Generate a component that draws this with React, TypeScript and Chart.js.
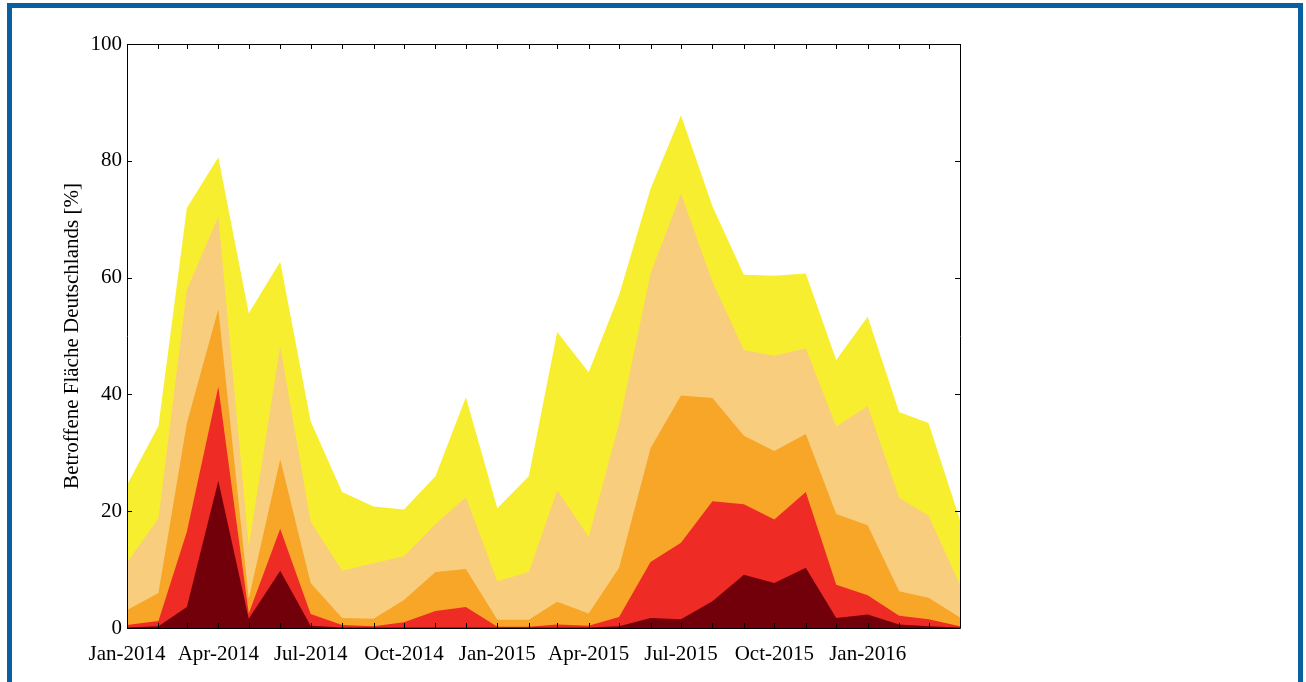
import React, { useEffect, useRef } from "react";
import { Chart, registerables } from "chart.js";

Chart.register(...registerables);

// Monthly samples (first day of month)
const months = [
  "2014-01", "2014-02", "2014-03", "2014-04", "2014-05", "2014-06", "2014-07",
  "2014-08", "2014-09", "2014-10", "2014-11", "2014-12", "2015-01", "2015-02",
  "2015-03", "2015-04", "2015-05", "2015-06", "2015-07", "2015-08", "2015-09",
  "2015-10", "2015-11", "2015-12", "2016-01", "2016-02", "2016-03", "2016-04",
];

// Tick labels on the x axis (quarterly)
const quarterMonths = [
  "2014-01", "2014-04", "2014-07", "2014-10", "2015-01", "2015-04", "2015-07", "2015-10", "2016-01",
];
const quarterLabels = [
  "Jan-2014", "Apr-2014", "Jul-2014", "Oct-2014", "Jan-2015", "Apr-2015", "Jul-2015", "Oct-2015", "Jan-2016",
];

const yTickValues = [0, 20, 40, 60, 80, 100];

// Cumulative affected area per drought class [%]
const level1 = [24.5, 34.6, 71.9, 80.6, 53.9, 62.7, 35.4, 23.3, 20.8, 20.3, 26.0, 39.5, 20.5, 26.0, 50.7, 43.8, 57.0, 75.2, 87.8, 72.2, 60.5, 60.3, 60.7, 45.9, 53.3, 37.0, 35.1, 18.5];
const level2 = [11.2, 18.8, 57.9, 70.4, 14.0, 48.3, 18.2, 9.8, 11.1, 12.3, 17.8, 22.4, 8.0, 9.6, 23.6, 15.6, 35.0, 60.7, 74.4, 59.3, 47.6, 46.6, 47.9, 34.5, 38.0, 22.3, 19.2, 7.4];
const level3 = [3.1, 6.0, 35.1, 54.6, 5.0, 28.9, 7.7, 1.7, 1.6, 4.8, 9.6, 10.1, 1.4, 1.4, 4.5, 2.5, 10.3, 30.8, 39.8, 39.4, 32.9, 30.3, 33.2, 19.5, 17.6, 6.3, 5.2, 1.8];
const level4 = [0.5, 1.2, 16.5, 41.3, 2.5, 17.0, 2.4, 0.5, 0.3, 1.0, 2.9, 3.6, 0.2, 0.2, 0.6, 0.4, 1.9, 11.3, 14.6, 21.7, 21.2, 18.6, 23.3, 7.4, 5.6, 2.1, 1.5, 0.3];
const level5 = [0.1, 0.3, 3.6, 25.2, 1.6, 9.8, 0.4, 0.1, 0.1, 0.1, 0.1, 0.1, 0.1, 0.1, 0.1, 0.1, 0.3, 1.7, 1.5, 4.6, 9.1, 7.7, 10.3, 1.7, 2.3, 0.6, 0.3, 0.1];

const colors = ["#72000B", "#EE2B25", "#F7A627", "#F9CD7E", "#F8EE30"];

const FONT = "'Liberation Serif', 'Times New Roman', serif";

function dayOf(m: string): number {
  const [y, mo] = m.split("-").map(Number);
  return (Date.UTC(y, mo - 1, 1) - Date.UTC(2014, 0, 1)) / 86400000;
}

const labelMap = new Map<number, string>();
quarterMonths.forEach((m, i) => labelMap.set(dayOf(m), quarterLabels[i]));

const framePlugin = {
  id: "frame",
  afterDatasetsDraw(chart: any) {
    const { ctx, chartArea } = chart;
    const { left, right, top, bottom } = chartArea;
    const xs = chart.scales.x;
    const ys = chart.scales.y;
    ctx.save();
    ctx.strokeStyle = "#000";
    ctx.lineWidth = 1;
    ctx.beginPath();
    ctx.rect(Math.round(left) + 0.5, Math.round(top) + 0.5, Math.round(right - left), Math.round(bottom - top));
    ctx.stroke();
    const tl = 5;
    ctx.beginPath();
    for (const v of yTickValues) {
      const py = Math.round(ys.getPixelForValue(v)) + 0.5;
      ctx.moveTo(left, py);
      ctx.lineTo(left + tl, py);
      ctx.moveTo(right, py);
      ctx.lineTo(right - tl, py);
    }
    for (const m of months) {
      const px = Math.round(xs.getPixelForValue(dayOf(m))) + 0.5;
      ctx.moveTo(px, bottom);
      ctx.lineTo(px, bottom - tl);
      ctx.moveTo(px, top);
      ctx.lineTo(px, top + tl);
    }
    ctx.stroke();
    ctx.restore();
  },
};

export default function App() {
  const ref = useRef<HTMLCanvasElement | null>(null);

  useEffect(() => {
    if (!ref.current) return;
    const series = [level5, level4, level3, level2, level1];
    const chart = new Chart(ref.current, {
      type: "line",
      data: {
        datasets: series.map((arr, i) => ({
          data: months.map((m, j) => ({ x: dayOf(m), y: arr[j] })),
          backgroundColor: colors[i],
          borderColor: colors[i],
          borderWidth: 0,
          pointRadius: 0,
          tension: 0,
          fill: "origin",
        })),
      },
      options: {
        animation: false,
        responsive: false,
        maintainAspectRatio: false,
        events: [],
        layout: { padding: { left: 0, top: 44, right: 346, bottom: 0 } },
        plugins: { legend: { display: false }, tooltip: { enabled: false } },
        scales: {
          x: {
            type: "linear",
            min: dayOf(months[0]),
            max: dayOf(months[months.length - 1]),
            grid: { display: false, drawTicks: false },
            border: { display: false },
            ticks: {
              autoSkip: false,
              maxRotation: 0,
              minRotation: 0,
              padding: 14,
              color: "#000",
              font: { family: FONT, size: 21 },
              callback: (v: any) => labelMap.get(Number(v)) ?? "",
            },
            afterBuildTicks: (s: any) => {
              s.ticks = quarterMonths.map((m) => ({ value: dayOf(m) }));
            },
            afterFit: (s: any) => {
              s.height = 54;
            },
          },
          y: {
            min: 0,
            max: 100,
            grid: { display: false, drawTicks: false },
            border: { display: false },
            ticks: {
              stepSize: 20,
              padding: 5,
              color: "#000",
              font: { family: FONT, size: 21 },
            },
            title: {
              display: true,
              text: "Betroffene Fläche Deutschlands [%]",
              color: "#000",
              font: { family: FONT, size: 21 },
              padding: { top: 60, bottom: 0 },
            },
            afterFit: (s: any) => {
              s.width = 127;
            },
          },
        },
      },
      plugins: [framePlugin],
    } as any);
    return () => chart.destroy();
  }, []);

  return (
    <div style={{ position: "absolute", left: 0, top: 0, width: 1306, height: 682, overflow: "hidden", background: "#fff" }}>
      <div
        style={{
          position: "absolute",
          left: 7,
          top: 3,
          width: 1286,
          height: 800,
          borderLeft: "5px solid #0a5fa0",
          borderRight: "5px solid #0a5fa0",
          borderTop: "5px solid #0a5fa0",
        }}
      />
      <canvas ref={ref} width={1306} height={682} style={{ position: "absolute", left: 0, top: 0 }} />
    </div>
  );
}
